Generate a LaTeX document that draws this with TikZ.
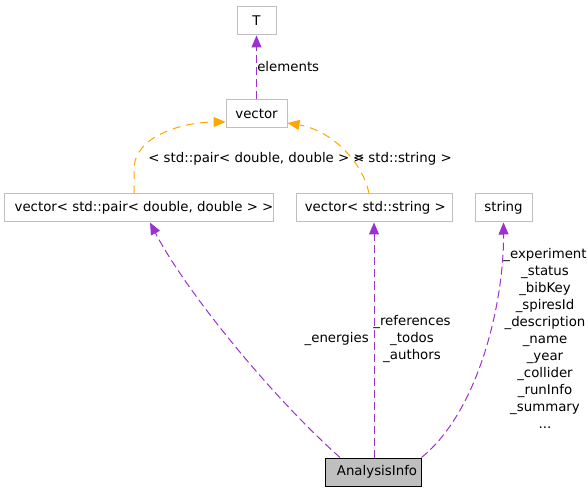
\documentclass[tikz,border=0pt]{standalone}
\usepackage{fontspec}
\setmainfont{DejaVu Sans}
\usetikzlibrary{arrows.meta}
\definecolor{edgepurple}{HTML}{9A32CD}
\definecolor{edgeorange}{HTML}{FFA500}
\definecolor{boxgray}{HTML}{BFBFBF}
\begin{document}
\begin{tikzpicture}[x=0.75pt,y=-0.75pt,
  every node/.style={font=\fontsize{10pt}{12.8pt}\selectfont, text=black},
  cls/.style={draw=boxgray, line width=0.75pt, rectangle, inner sep=0pt, minimum height=21pt},
  mainbox/.style={cls, draw=black, fill=boxgray},
  lbl/.style={inner sep=0pt},
  uses/.style={draw=edgepurple, line width=0.75pt, dash pattern=on 6pt off 3pt,
    -{Triangle[length=9pt,width=7.5pt]}},
  tmpl/.style={draw=edgeorange, line width=0.75pt, dash pattern=on 6pt off 4.5pt,
    -{Triangle[length=9pt,width=7.5pt]}}
]
\useasboundingbox (0,0) rectangle (588,491);

% nodes
\node[cls, minimum width=29.25pt] (T) at (256.5,21) {T};
\node[cls, minimum width=45.75pt] (vector) at (256.5,114) {vector};
\node[cls, minimum width=201pt] (vpair) at (139,208) {\hspace*{7.5pt}vector< std::pair< double, double > >};
\node[cls, minimum width=117pt] (vstr) at (374,208) {\hspace*{2pt}vector< std::string >};
\node[cls, minimum width=42.75pt] (string) at (503.5,208) {string};
\node[mainbox, minimum width=72pt] (AI) at (373,472) {\hspace*{6pt}AnalysisInfo};

% edges
\draw[uses] (vector.north) -- (T.south);
\draw[tmpl] ([xshift=-3.75pt]vpair.north) -- ++(0,-24)
  .. controls (134,135) and (185,122) .. ([yshift=-6pt]vector.west);
\draw[tmpl] ([xshift=-3.75pt]vstr.north)
  .. controls (362,160) and (330,130) .. ([yshift=-6.75pt]vector.east);
\draw[uses] ([xshift=-24.75pt]AI.north)
  .. controls (270,395) and (185,290) .. ([xshift=8.25pt]vpair.south);
\draw[uses] (AI.north -| vstr.south) -- (vstr.south);
\draw[uses] (AI.north east)
  .. controls (480,410) and (504,300) .. (string.south);

% labels
\node[lbl, anchor=west] (lel) at (257,67) {elements};
\node[lbl, anchor=west] (lpair) at (148,159) {< std::pair< double, double > >};
\node[lbl, anchor=east] (lstr) at (452,159) {< std::string >};
\node[lbl, anchor=east] (len) at (369,339) {\_energies};
\node[lbl, align=center] (lref) at (412,339) {\_references\\\_todos\\\_authors};
\node[lbl, align=center] (lstrlab) at (545,338.5) {\_experiment\\\_status\\\_bibKey\\\_spiresId\\\_description\\\_name\\\_year\\\_collider\\\_runInfo\\\_summary\\...};
\end{tikzpicture}
\end{document}
